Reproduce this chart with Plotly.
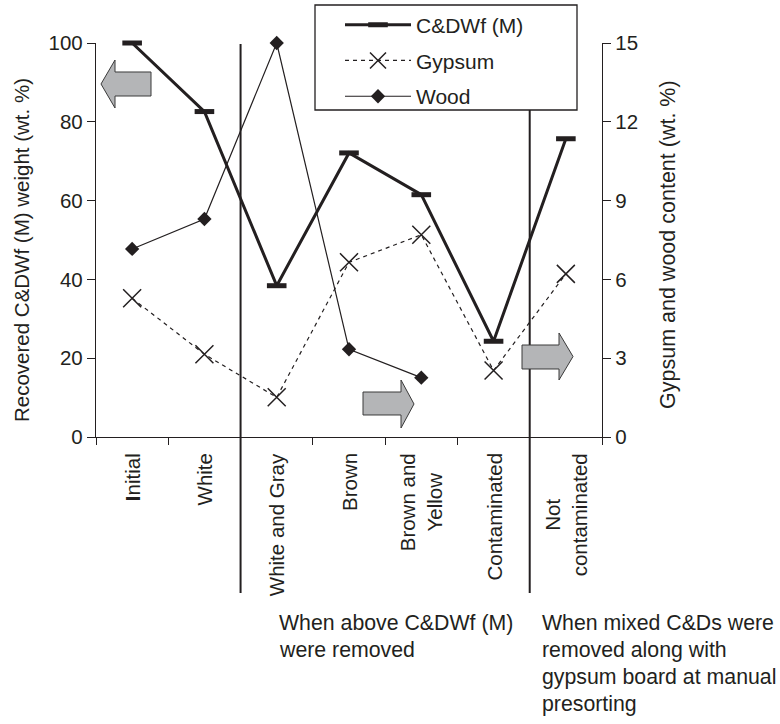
import plotly.graph_objects as go

# ---- data -------------------------------------------------------------
categories = ["Initial", "White", "White and Gray", "Brown",
              "Brown and<br>Yellow", "Contaminated", "Not<br>contaminated"]
category_labels = ["<b>I</b>nitial", "White", "White and Gray", "Brown",
                   "Brown and<br>Yellow", "Contaminated", "Not<br>contaminated"]
cdw_recovered = [100, 82.6, 38.4, 72.1, 61.5, 24.3, 75.7]      # left axis, wt. %
gypsum = [5.28, 3.15, 1.51, 6.65, 7.70, 2.53, 6.21]           # right axis, wt. %
wood = [7.16, 8.30, 15.0, 3.34, 2.26, None, None]             # right axis, wt. %

left_ticks = [0, 20, 40, 60, 80, 100]
right_ticks = [0, 3, 6, 9, 12, 15]

group_notes = [
    (["When above C&DWf (M)", "were removed"], 277),
    (["When mixed C&Ds were", "removed along with",
      "gypsum board at manual", "presorting"], 540),
]

# ---- layout geometry (pixels) -----------------------------------------
FW, FH = 780, 724
L, R, T, B = 96, 178, 43, 287
PW, PH = FW - L - R, FH - T - B
FONT = "Arial, Liberation Sans, Helvetica, sans-serif"
INK = "#231f20"
FS = 20.5


def px(xp):
    return (xp - L) / PW


def py(yp):
    return (T + PH - yp) / PH


fig = go.Figure()

fig.add_trace(go.Scatter(
    x=categories, y=cdw_recovered, name="C&DWf (M)", legendgroup="a",
    mode="lines+markers", cliponaxis=False,
    line=dict(color=INK, width=3),
    marker=dict(symbol="line-ew", size=14, line=dict(color=INK, width=5)),
))
fig.add_trace(go.Scatter(
    x=categories, y=gypsum, name="Gypsum", legendgroup="b", yaxis="y2",
    mode="lines+markers", cliponaxis=False,
    line=dict(color=INK, width=1.2, dash="4px,4px"),
    marker=dict(symbol="x-thin", size=18, line=dict(color=INK, width=1.5)),
))
fig.add_trace(go.Scatter(
    x=categories, y=wood, name="Wood", legendgroup="c", yaxis="y2",
    mode="lines+markers", cliponaxis=False,
    line=dict(color=INK, width=1.2),
    marker=dict(symbol="diamond", size=11, color=INK),
))

# separators between sorting stages
shapes = []
for xb in (1.5, 5.5):
    shapes.append(dict(type="line", xref="x", yref="paper", x0=xb, x1=xb,
                       y0=py(593), y1=py(44), layer="below",
                       line=dict(color=INK, width=2)))

# legend frame
shapes.append(dict(type="rect", xref="paper", yref="paper",
                   x0=px(315), x1=px(577), y0=py(110), y1=py(5),
                   fillcolor="white", line=dict(color=INK, width=1.3),
                   layer="above"))


def block_arrow(x0, x1, head_x, body_top, body_bot, head_top, head_bot, left):
    """Gray block arrow given in pixel coordinates."""
    ymid = (head_top + head_bot) / 2
    if left:
        pts = [(x0, ymid), (head_x, head_top), (head_x, body_top), (x1, body_top),
               (x1, body_bot), (head_x, body_bot), (head_x, head_bot)]
    else:
        pts = [(x1, ymid), (head_x, head_top), (head_x, body_top), (x0, body_top),
               (x0, body_bot), (head_x, body_bot), (head_x, head_bot)]
    path = "M " + " L ".join(f"{px(a):.5f},{py(b):.5f}" for a, b in pts) + " Z"
    return dict(type="path", xref="paper", yref="paper", path=path,
                fillcolor="#b4b5b7", line=dict(color="#3a3a3a", width=1),
                layer="above")


shapes.append(block_arrow(101, 151, 115, 72, 96, 60, 108, left=True))
shapes.append(block_arrow(363, 414, 401, 392, 415, 380, 428, left=False))
shapes.append(block_arrow(522, 573, 559, 345, 369, 333, 380, left=False))

annotations = []
# category labels, rotated
for c, lab in zip(categories, category_labels):
    annotations.append(dict(
        x=c, xref="x", y=py(451), yref="paper", text=lab, textangle=-90,
        xanchor="center", yanchor="top", align="center", showarrow=False,
        font=dict(family=FONT, size=FS, color=INK),
    ))
# axis titles
annotations.append(dict(
    x=px(21), xref="paper", y=py(250), yref="paper",
    text="Recovered C&DWf (M) weight (wt. %)", textangle=-90,
    xanchor="center", yanchor="middle", showarrow=False,
    font=dict(family=FONT, size=FS, color=INK),
))
annotations.append(dict(
    x=px(668), xref="paper", y=py(245), yref="paper",
    text="Gypsum and wood content (wt. %)", textangle=-90,
    xanchor="center", yanchor="middle", showarrow=False,
    font=dict(family=FONT, size=21.5, color=INK),
))
# notes under the stage groups
for lines, x_left in group_notes:
    for i, line in enumerate(lines):
        annotations.append(dict(
            x=px(x_left), xref="paper", y=py(623 + 27 * i), yref="paper",
            text=line, xanchor="left", yanchor="middle", showarrow=False,
            font=dict(family=FONT, size=21.3, color=INK),
        ))

fig.update_layout(
    width=FW, height=FH,
    margin=dict(l=L, r=R, t=T, b=B, pad=0, autoexpand=False),
    paper_bgcolor="white", plot_bgcolor="white",
    font=dict(family=FONT, size=FS, color=INK),
    showlegend=True,
    legend=dict(
        x=px(340), y=py(4.5), xanchor="left", yanchor="top",
        bgcolor="rgba(0,0,0,0)", borderwidth=0,
        font=dict(family=FONT, size=21, color=INK),
        tracegroupgap=5.5, itemwidth=66,
    ),
    xaxis=dict(
        type="category", range=[-0.5, 6.5], showticklabels=False,
        showline=True, linecolor=INK, linewidth=1.3,
        ticks="outside", tickson="boundaries", ticklen=7, tickwidth=1.2,
        tickcolor=INK, showgrid=False, zeroline=False,
    ),
    yaxis=dict(
        range=[0, 100], tickvals=left_ticks, showline=True, linecolor=INK,
        linewidth=1.3, ticks="outside", ticklen=8, tickwidth=1.2, tickcolor=INK,
        showgrid=False, zeroline=False, ticklabelstandoff=0,
    ),
    yaxis2=dict(
        range=[0, 15], tickvals=right_ticks, overlaying="y", side="right",
        showline=True, linecolor=INK, linewidth=1.3, ticks="outside",
        ticklen=8, tickwidth=1.2, tickcolor=INK, showgrid=False,
        zeroline=False, ticklabelstandoff=0,
    ),
    shapes=shapes,
    annotations=annotations,
)

fig.write_html("out.html")
